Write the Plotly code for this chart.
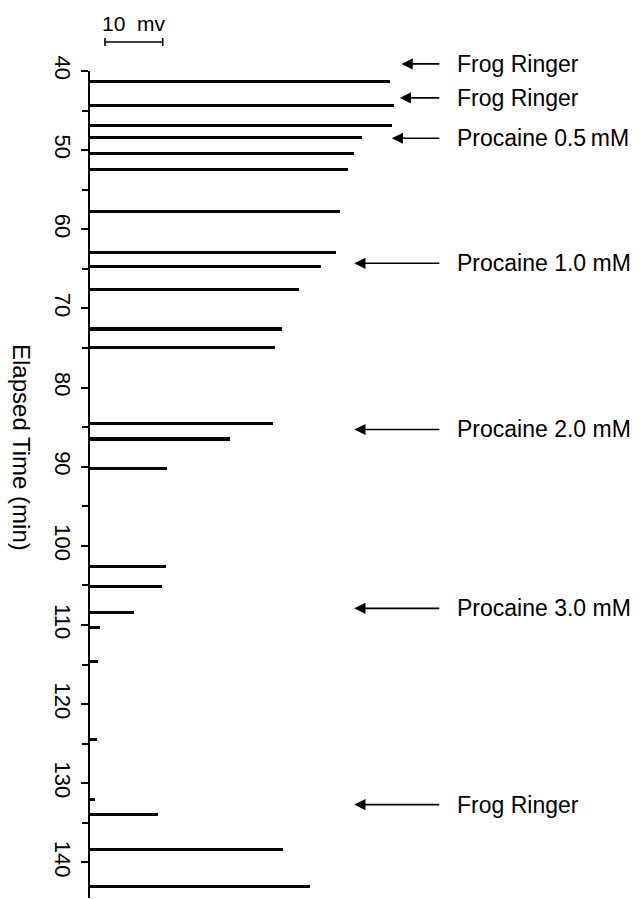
import plotly.graph_objects as go

# Elapsed time (min) of each recorded spike and its amplitude (mV)
times = [41.3, 44.4, 46.9, 48.4, 50.4, 52.4, 57.7, 62.9, 64.7, 67.6,
         72.6, 74.9, 84.5, 86.5, 90.2, 102.6, 105.1, 108.4, 110.3, 114.6,
         124.5, 132.0, 134.0, 138.4, 143.0]
amplitudes = [52.0, 52.7, 52.3, 47.1, 45.8, 44.7, 43.3, 42.6, 40.0, 36.2,
              33.3, 32.1, 31.8, 24.3, 13.3, 13.1, 12.4, 7.7, 1.7, 1.3,
              1.2, 0.9, 11.8, 33.4, 38.2]

# Solution changes (label, time of change, arrow tip amplitude position)
event_labels = ["Frog Ringer", "Frog Ringer", "Procaine 0.5\u2009mM", "Procaine 1.0 mM",
                "Procaine 2.0 mM", "Procaine 3.0 mM", "Frog Ringer"]
event_times = [39.1, 43.4, 48.5, 64.3, 85.3, 107.9, 132.7]
arrow_tips = [54.0, 53.7, 52.3, 45.8, 45.8, 45.8, 45.8]
arrow_tail = 60.8
label_x = 63.2

scale_start = 2.6
scale_len = 10  # mV

Y_MIN, Y_MAX = 40, 144.5

W, H = 642, 899
ML, MR, MT, MB = 90, 0, 71, 1
px_per_mv = 5.77
xmax = (W - ML - MR) / px_per_mv

FONT = "Liberation Sans, Arial, Helvetica, sans-serif"

fig = go.Figure()
fig.add_trace(go.Bar(
    x=amplitudes, y=times, orientation="h", width=0.38,
    marker=dict(color="black", line=dict(width=0)),
    showlegend=False, hoverinfo="x+y",
))

plot_h = H - MT - MB


def ydom(t):
    return 1 - (t - Y_MIN) / (Y_MAX - Y_MIN)


annotations = []
for lab, t, tip in zip(event_labels, event_times, arrow_tips):
    yp = ydom(t)
    annotations.append(dict(
        x=tip, y=yp, xref="x", yref="y domain", ax=arrow_tail, ay=yp,
        axref="x", ayref="y domain",
        text="", showarrow=True, arrowhead=2, arrowsize=1.4, arrowwidth=1.6,
        arrowcolor="black", standoff=0, startstandoff=0,
    ))
    annotations.append(dict(
        x=label_x, y=yp, xref="x", yref="y domain", text=lab, showarrow=False,
        xanchor="left", yanchor="middle",
        font=dict(family=FONT, size=23, color="black"),
    ))

annotations.append(dict(
    x=(-68) / (W - ML - MR), y=1 - (447 - MT) / plot_h, xref="paper", yref="paper",
    text="Elapsed Time (min)", textangle=90, showarrow=False,
    xanchor="center", yanchor="middle",
    font=dict(family=FONT, size=24, color="black"),
))
annotations.append(dict(
    x=scale_start + scale_len / 2, y=1 + (MT - 23) / plot_h, xref="x", yref="paper",
    text="10\u00a0\u00a0mv", showarrow=False, xanchor="center", yanchor="middle",
    font=dict(family=FONT, size=21, color="black"),
))

ybar = 1 + (MT - 42) / plot_h
cap = 4 / plot_h
shapes = [
    dict(type="line", xref="x", yref="paper", x0=scale_start, x1=scale_start + scale_len,
         y0=ybar, y1=ybar, line=dict(color="black", width=1.6)),
    dict(type="line", xref="x", yref="paper", x0=scale_start, x1=scale_start,
         y0=ybar - cap, y1=ybar + cap, line=dict(color="black", width=1.6)),
    dict(type="line", xref="x", yref="paper", x0=scale_start + scale_len, x1=scale_start + scale_len,
         y0=ybar - cap, y1=ybar + cap, line=dict(color="black", width=1.6)),
]

fig.update_layout(
    width=W, height=H,
    margin=dict(l=ML, r=MR, t=MT, b=MB, pad=0),
    paper_bgcolor="white", plot_bgcolor="white",
    bargap=0,
    xaxis=dict(range=[0, xmax], visible=False, fixedrange=True),
    yaxis=dict(
        range=[Y_MAX, Y_MIN], tick0=40, dtick=10,
        showline=True, linecolor="black", linewidth=2,
        ticks="outside", ticklen=7, tickwidth=1.6, tickcolor="black",
        tickangle=90, showgrid=False, zeroline=False,
        tickfont=dict(family=FONT, size=22, color="black"),
        minor=dict(dtick=5, tick0=40, ticks="outside", ticklen=6, tickwidth=1.6,
                   tickcolor="black", showgrid=False),
        fixedrange=True,
    ),
    annotations=annotations,
    shapes=shapes,
    font=dict(family=FONT, color="black"),
)

fig.write_html("out.html", config={"displayModeBar": False},
               post_script="document.body.style.margin='0';document.body.style.overflow='hidden';")
